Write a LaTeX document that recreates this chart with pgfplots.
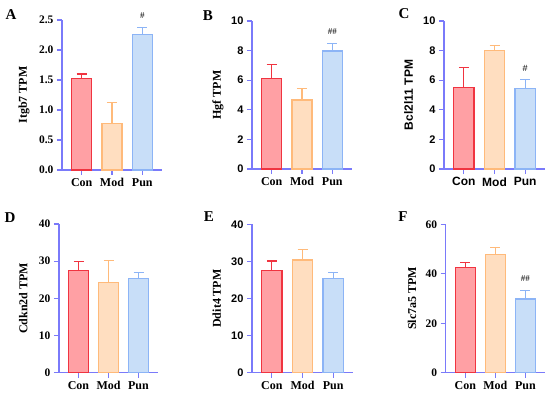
\documentclass[border=0pt]{standalone}
\usepackage{pgfplots}
\pgfplotsset{compat=1.18}
\usepackage{fontspec}
\setmainfont{Liberation Serif}
\setsansfont{Liberation Sans}
\definecolor{axcol}{RGB}{122,122,250}
\definecolor{conedge}{RGB}{240,52,64}
\definecolor{confill}{RGB}{255,160,164}
\definecolor{modedge}{RGB}{255,186,122}
\definecolor{modfill}{RGB}{255,222,192}
\definecolor{punedge}{RGB}{140,180,246}
\definecolor{punfill}{RGB}{200,222,248}
\newcommand\lab{\bfseries\fontsize{12}{14}\selectfont}
\newcommand\slab{\sffamily\bfseries\fontsize{12}{14}\selectfont}
\newcommand\tk{\bfseries\fontsize{11.5}{13}\selectfont}
\newcommand\stk{\sffamily\bfseries\fontsize{11}{13}\selectfont}
\pgfplotsset{
 panel/.style={
  scale only axis, axis x line*=bottom, axis y line*=left,
  ymin=0, xmin=0.35, xmax=3.65, clip=false,
  ybar, bar width=0.66, bar shift=0pt,
  xtick={1,2,3}, xticklabels={Con,Mod,Pun},
  tick align=outside, major tick length=5pt,
  axis line style={axcol, line width=1.4pt},
  tick style={axcol, line width=1.2pt},
  /pgf/number format/assume math mode=true,
  ylabel style={at={(axis description cs:-0.36,0.5)}, anchor=center},
 },
 bc/.style 2 args={fill=#1, draw=#2, line width=1.3pt,
  error bars/.cd, y dir=plus, y explicit,
  error bar style={#2, line width=1.1pt},
  error mark options={#2, rotate=90, mark size=5pt, line width=1.1pt}},
}
\newcommand\bars[6]{%
 \addplot[bc={confill}{conedge}] coordinates {(1,#1) +- (0,#2)};
 \addplot[bc={modfill}{modedge}] coordinates {(2,#3) +- (0,#4)};
 \addplot[bc={punfill}{punedge}] coordinates {(3,#5) +- (0,#6)};
}
\begin{document}
\begin{tikzpicture}[x=1pt,y=1pt]
\path[use as bounding box] (0,0) rectangle (550,400);
% A
\begin{axis}[panel, at={(62pt,230pt)}, anchor=south west, width=100pt, height=150pt,
  ymax=2.5, ytick={0,0.5,...,2.5},
  yticklabel style={font=\tk, /pgf/number format/.cd, fixed, fixed zerofill, precision=1},
  xticklabel style={font=\lab}, ylabel={Itgb7 TPM}, ylabel style={font=\lab, at={(axis description cs:-0.38,0.5)}}]
\bars{1.53}{0.07}{0.78}{0.34}{2.26}{0.11}
\node[font=\fontsize{9}{9}\selectfont] at (axis cs:3,2.58) {\#};
\end{axis}
% B
\begin{axis}[panel, at={(252pt,231pt)}, anchor=south west, width=100pt, height=148pt,
  ymax=10, ytick={0,2,...,10},
  yticklabel style={font=\stk},
  xticklabel style={font=\lab}, ylabel={Hgf TPM}, ylabel style={font=\lab, at={(axis description cs:-0.34,0.5)}}]
\bars{6.10}{0.97}{4.66}{0.77}{7.97}{0.52}
\node[font=\fontsize{9}{9}\selectfont] at (axis cs:3,9.26) {\#\#};
\end{axis}
% C
\begin{axis}[panel, at={(444pt,231pt)}, anchor=south west, width=101pt, height=148pt,
  ymax=10, ytick={0,2,...,10},
  yticklabel style={font=\stk},
  xticklabel style={font=\slab}, ylabel={Bcl2l11 TPM}, ylabel style={font=\slab, at={(axis description cs:-0.35,0.5)}}]
\bars{5.52}{1.35}{8.02}{0.34}{5.45}{0.61}
\node[font=\sffamily\fontsize{9}{9}\selectfont] at (axis cs:3,6.82) {\#};
\end{axis}
% D
\begin{axis}[panel, at={(59pt,27.3pt)}, anchor=south west, width=99pt, height=148.7pt,
  ymax=40, ytick={0,10,...,40},
  yticklabel style={font=\tk},
  xticklabel style={font=\lab}, ylabel={Cdkn2d TPM}, ylabel style={font=\lab, at={(axis description cs:-0.36,0.5)}}]
\bars{27.5}{2.5}{24.3}{5.9}{25.4}{1.6}
\end{axis}
% E
\begin{axis}[panel, at={(252pt,27.3pt)}, anchor=south west, width=101pt, height=148.4pt,
  ymax=40, ytick={0,10,...,40},
  yticklabel style={font=\stk},
  xticklabel style={font=\lab}, ylabel={Ddit4 TPM}, ylabel style={font=\lab, at={(axis description cs:-0.35,0.5)}}]
\bars{27.6}{2.5}{30.4}{2.9}{25.3}{1.7}
\end{axis}
% F
\begin{axis}[panel, at={(445.7pt,27.3pt)}, anchor=south west, width=99.3pt, height=148.4pt,
  ymax=60, ytick={0,20,...,60},
  yticklabel style={font=\tk},
  xticklabel style={font=\lab}, ylabel={Slc7a5 TPM}, ylabel style={font=\lab, at={(axis description cs:-0.34,0.5)}}]
\bars{42.5}{2.1}{47.9}{2.6}{29.8}{3.6}
\node[font=\fontsize{9}{9}\selectfont] at (axis cs:3,37.9) {\#\#};
\end{axis}
% panel letters
\begin{scope}[every node/.style={font=\bfseries\fontsize{15}{15}\selectfont}]
\node at (11,385) {A};
\node at (208,384) {B};
\node at (404,386) {C};
\node at (10,182) {D};
\node at (209,183) {E};
\node at (403,183) {F};
\end{scope}
\end{tikzpicture}
\end{document}
